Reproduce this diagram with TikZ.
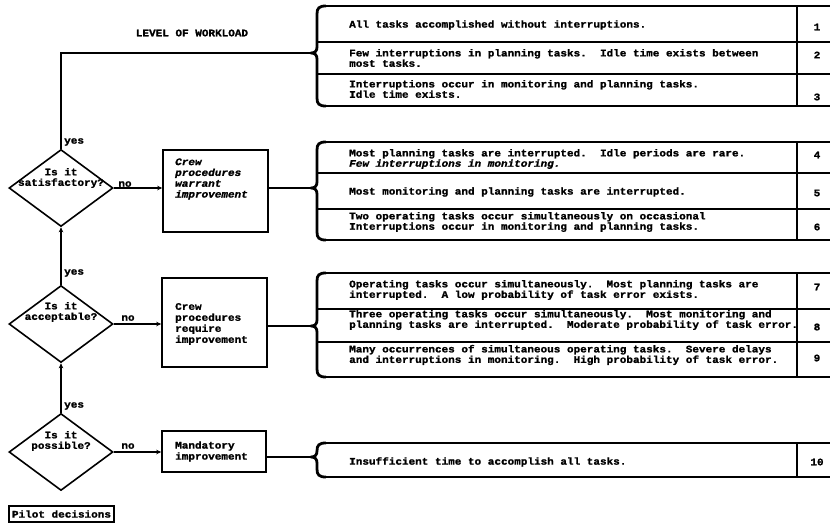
\documentclass[tikz,border=0pt]{standalone}
\usepackage{fontspec}
\setmonofont{Liberation Mono}[FakeStretch=1.1, BoldFeatures={FakeBold=1.5}, BoldItalicFeatures={FakeBold=1.5}]
\usetikzlibrary{shapes.geometric,arrows.meta}
\newcommand\wlgroup[3]{%
  \draw[line width=1.9pt] (326,#1) -- (830,#1);
  \draw[line width=1.9pt] (326,#2) -- (830,#2);
  \draw[line width=1.7pt] (797,#1) -- (797,#2);
  \draw[line width=2.8pt, line join=round] (326,#1) .. controls (319,#1) and (317,#1+2) .. (317,#1+8) -- (317,#3-6) .. controls (317,#3-2) and (315,#3) .. (311,#3) .. controls (315,#3) and (317,#3+2) .. (317,#3+6) -- (317,#2-8) .. controls (317,#2-2) and (319,#2) .. (326,#2);
}
\tikzset{
  txt/.style={font=\ttfamily\bfseries\fontsize{10pt}{8.8pt}\selectfont, inner sep=0pt, align=left},
  rowtxt/.style={txt, anchor=west},
  num/.style={txt, anchor=center},
  boxtxt/.style={font=\ttfamily\bfseries\fontsize{10pt}{11pt}\selectfont, inner sep=0pt, align=left, anchor=west},
  diatxt/.style={font=\ttfamily\bfseries\fontsize{10pt}{10.5pt}\selectfont, inner sep=0pt, align=center},
  dia/.style={draw, diamond, minimum width=104pt, minimum height=77pt, inner sep=0pt, line width=1.6pt},
  actbox/.style={draw, rectangle, line width=1.6pt, inner sep=0pt},
  conn/.style={line width=1.5pt},
  arr/.style={line width=1.5pt, -{Stealth[length=5pt,width=4.5pt]}},
}
\begin{document}
\begin{tikzpicture}[x=1pt,y=-1pt]
\useasboundingbox (0,0) rectangle (830,530);

% title
\node[txt] (title) at (192,33) {LEVEL OF WORKLOAD};

% diamonds
\node[dia] (d1) at (61,188) {};
\node[dia] (d2) at (61,324) {};
\node[dia] (d3) at (61,452) {};
\node[diatxt] (d1t) at (61,178) {Is it\\satisfactory?};
\node[diatxt] (d2t) at (61,312) {Is it\\acceptable?};
\node[diatxt] (d3t) at (61,441) {Is it\\possible?};

% action boxes
\node[actbox, minimum width=105pt, minimum height=82pt] (b1) at (215.5,191) {};
\node[actbox, minimum width=105pt, minimum height=89pt] (b2) at (214.5,322.5) {};
\node[actbox, minimum width=104pt, minimum height=41pt] (b3) at (214,451.5) {};
\node[boxtxt, font=\ttfamily\bfseries\itshape\fontsize{10pt}{10.8pt}\selectfont] (b1t) at (175,179) {Crew\\procedures\\warrant\\improvement};
\node[boxtxt] (b2t) at (175,324) {Crew\\procedures\\require\\improvement};
\node[boxtxt] (b3t) at (175,451.5) {Mandatory\\improvement};

% pilot decisions
\node[draw, line width=1.9pt, minimum width=105pt, minimum height=16pt, inner sep=0pt, font=\ttfamily\bfseries\fontsize{10pt}{10pt}\selectfont] (pilot) at (61.5,514) {Pilot decisions};

% brace points
\coordinate (br1) at (311,53);
\coordinate (br2) at (311,188);
\coordinate (br3) at (311,326);
\coordinate (br4) at (311,457);

% tables
\wlgroup{6}{106}{53}
\foreach \s in {42,74} {\draw[line width=1.5pt] (317,\s) -- (830,\s);}
\wlgroup{142}{240}{188}
\foreach \s in {173,209} {\draw[line width=1.5pt] (317,\s) -- (830,\s);}
\wlgroup{273}{377}{326}
\foreach \s in {309,342} {\draw[line width=1.5pt] (317,\s) -- (830,\s);}
\wlgroup{443}{477}{457}

% connectors
\draw[conn] (d1.north) |- (br1);
\draw[conn] (b1.east |- br2) -- (br2);
\draw[conn] (b2.east |- br3) -- (br3);
\draw[conn] (b3.east |- br4) -- (br4);
\draw[arr] (d1.east) -- (d1.east -| b1.west);
\draw[arr] (d2.east) -- (d2.east -| b2.west);
\draw[arr] (d3.east) -- (d3.east -| b3.west);
\draw[arr] (d2.north) -- (d1.south);
\draw[arr] (d3.north) -- (d2.south);

% yes / no labels
\node[txt, anchor=west] (y1) at (64,142) {yes};
\node[txt, anchor=west] (y2) at (64,273) {yes};
\node[txt, anchor=west] (y3) at (64,406) {yes};
\node[txt, anchor=south] (n1) at (125,187) {no};
\node[txt, anchor=south] (n2) at (128,321) {no};
\node[txt, anchor=south] (n3) at (128,449) {no};

% rows
\node[rowtxt] (r1) at (349,25) {All tasks accomplished without interruptions.};
\node[rowtxt] (r2) at (349,58) {Few interruptions in planning tasks.~ Idle time exists between\\most tasks.};
\node[rowtxt] (r3) at (349,89) {Interruptions occur in monitoring and planning tasks.\\Idle time exists.};
\node[rowtxt] (r4) at (349,159) {Most planning tasks are interrupted.~ Idle periods are rare.\\\textit{Few interruptions in monitoring.}};
\node[rowtxt] (r5) at (349,192) {Most monitoring and planning tasks are interrupted.};
\node[rowtxt] (r6) at (349,222) {Two operating tasks occur simultaneously on occasional\\Interruptions occur in monitoring and planning tasks.};
\node[rowtxt] (r7) at (349,290) {Operating tasks occur simultaneously.~ Most planning tasks are\\interrupted.~ A low probability of task error exists.};
\node[rowtxt] (r8) at (349,320) {Three operating tasks occur simultaneously.~ Most monitoring and\\planning tasks are interrupted.~ Moderate probability of task error.};
\node[rowtxt] (r9) at (349,355) {Many occurrences of simultaneous operating tasks.~ Severe delays\\and interruptions in monitoring.~ High probability of task error.};
\node[rowtxt] (r10) at (349,462) {Insufficient time to accomplish all tasks.};

% numbers
\node[num] (n01) at (817,27) {1};
\node[num] (n02) at (817,55) {2};
\node[num] (n03) at (817,97) {3};
\node[num] (n04) at (817,155) {4};
\node[num] (n05) at (817,193) {5};
\node[num] (n06) at (817,227) {6};
\node[num] (n07) at (817,287) {7};
\node[num] (n08) at (817,327) {8};
\node[num] (n09) at (817,358) {9};
\node[num] (n10) at (817,462) {10};
\end{tikzpicture}
\end{document}
